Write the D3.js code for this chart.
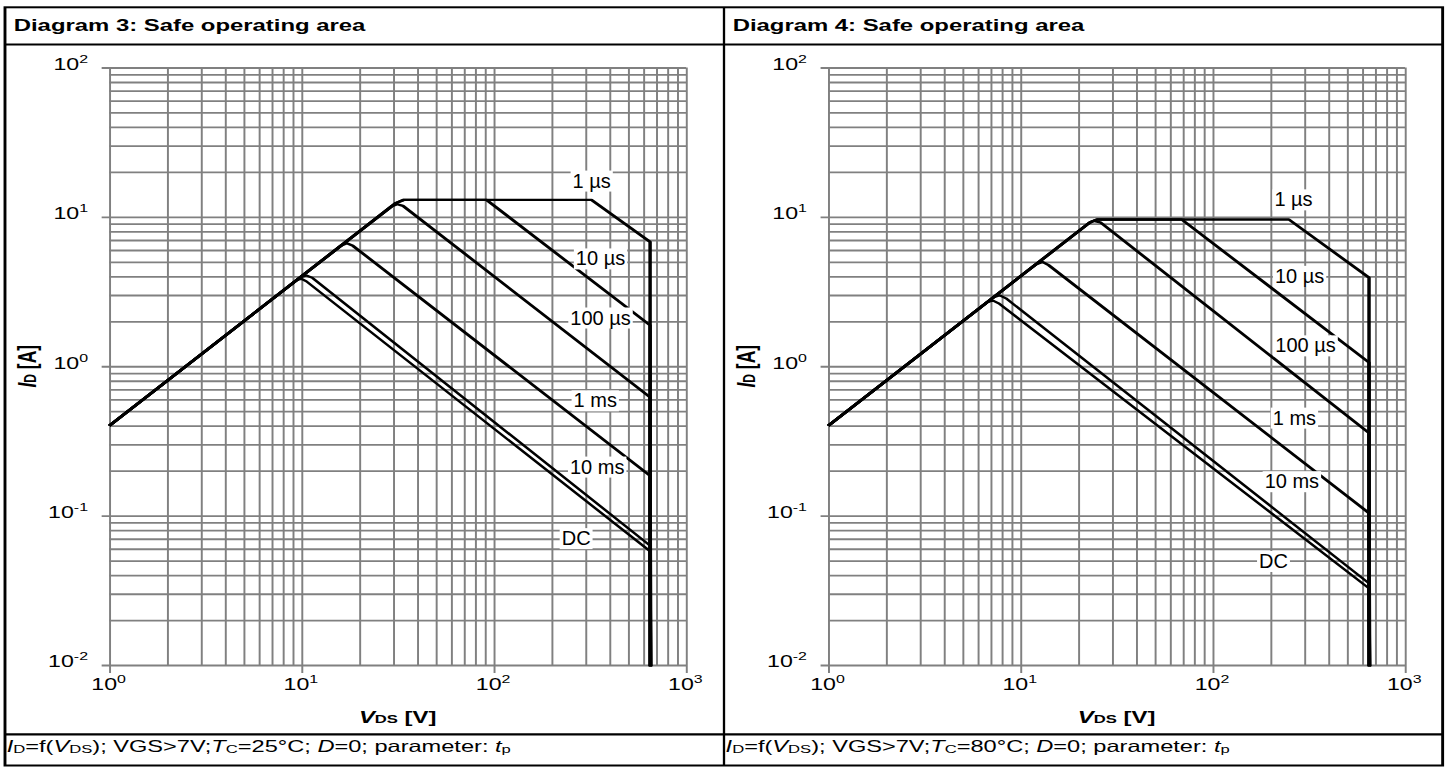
<!DOCTYPE html>
<html>
<head>
<meta charset="utf-8">
<script src="https://cdn.jsdelivr.net/npm/d3@7"></script>
<style>
  html, body { margin: 0; padding: 0; background: #fff; }
  svg { display: block; }
</style>
</head>
<body>
<svg id="chart"></svg>
<script>
// ---- Data: SOA boundary breakpoints, [V_DS (V), I_D (A)] ----
const pulseLabels = ["1 µs", "10 µs", "100 µs", "1 ms", "10 ms", "DC"];

// Diagram 3, T_C = 25 °C
const soa25_1us   = [[1, 0.4], [31, 12.4], [34, 13], [322, 13], [650, 6.8], [650, 0.0098]];
const soa25_10us  = [[1, 0.4], [31, 12.4], [34, 13], [91.6, 13], [650, 1.88], [652, 0.0098]];
const soa25_100us = [[1, 0.4], [29.5, 11.8], [31.5, 12.15], [33.7, 11.85], [650, 0.62], [653, 0.0098]];
const soa25_1ms   = [[1, 0.4], [16, 6.4], [17.2, 6.65], [18.5, 6.4], [650, 0.185], [654, 0.0098]];
const soa25_10ms  = [[1, 0.4], [9.8, 3.92], [10.6, 4.05], [11.4, 3.9], [650, 0.063], [655, 0.0098]];
const soa25_dc    = [[1, 0.4], [9.4, 3.76], [10.0, 3.85], [10.6, 3.7], [650, 0.0577], [656, 0.0098]];
// caption anchors (data space) for the pulse lengths
const labelAt25 = [[323, 17.5], [359, 5.27], [359, 2.12], [337, 0.591], [345, 0.213], [268, 0.0707]];

// Diagram 4, T_C = 80 °C
const soa80_1us   = [[1, 0.4], [23, 9.2], [25, 9.6], [249, 9.6], [650, 3.92], [650, 0.0098]];
const soa80_10us  = [[1, 0.4], [23, 9.2], [25, 9.6], [69, 9.6], [650, 1.06], [652, 0.0098]];
const soa80_100us = [[1, 0.4], [22.5, 9.0], [24, 9.4], [26, 9.2], [650, 0.357], [653, 0.0098]];
const soa80_1ms   = [[1, 0.4], [12, 4.8], [13, 5.0], [14, 4.75], [650, 0.104], [654, 0.0098]];
const soa80_10ms  = [[1, 0.4], [7.2, 2.88], [7.8, 2.98], [8.4, 2.85], [650, 0.0352], [655, 0.0098]];
const soa80_dc    = [[1, 0.4], [6.7, 2.68], [7.2, 2.75], [7.7, 2.64], [650, 0.0326], [656, 0.0098]];
const labelAt80 = [[263, 13.1], [283, 4.03], [304, 1.38], [266, 0.453], [258, 0.170], [207, 0.0497]];

// Axis decades
const xTickExp = [0, 1, 2, 3];
const yTickExp = [-2, -1, 0, 1, 2];

const titles = ["Diagram 3: Safe operating area", "Diagram 4: Safe operating area"];
const caseTemps = ["25", "80"];

// ---- Sheet setup: laid out 1000 units wide, stretched across the window ----
const K = 1.448;
const VW = 1448 / K, VH = 767;
const FONT = "'Liberation Sans', Arial, Helvetica, sans-serif";
const GRID = "#808080";

const svg = d3.select("#chart")
  .attr("width", 1448).attr("height", 767)
  .attr("viewBox", `0 0 ${VW} ${VH}`)
  .attr("preserveAspectRatio", "none")
  .style("font-family", FONT);

const frame = { l: 3.45, r: 996.3, t: 7.3, b: 765.5, head: 44.5, foot: 734.3, mid: 500 };
const plot = { x0: 75.5, x1: 473.8, y0: 67.5, y1: 665 };
const panelShift = 496.5;

function isDecade(v) {
  const l = Math.log10(v);
  return Math.abs(l - Math.round(l)) < 1e-9;
}

function drawPanel(offset, title, temp, curves, labelAt) {
  const g = svg.append("g").attr("transform", `translate(${offset},0)`);

  const x = d3.scaleLog().domain([1, 1000]).range([plot.x0, plot.x1]);
  const y = d3.scaleLog().domain([0.01, 100]).range([plot.y1, plot.y0]);

  // grid values: 1..9 per decade
  const vVals = [], hVals = [];
  for (let k = 0; k <= 2; k++) for (let m = 1; m <= 9; m++) vVals.push(m * 10 ** k);
  vVals.push(1000);
  for (let k = -2; k <= 1; k++) for (let m = 1; m <= 9; m++) hVals.push(+(m * 10 ** k).toPrecision(3));
  hVals.push(100);

  // vertical grid lines (decades run past the bottom edge as ticks)
  const gx = g.append("g")
    .attr("transform", `translate(0,${plot.y1})`)
    .call(d3.axisBottom(x).tickValues(vVals).tickSize(-(plot.y1 - plot.y0)).tickSizeOuter(0).tickFormat(""));
  gx.select(".domain").remove();
  gx.selectAll(".tick line")
    .attr("stroke", GRID).attr("stroke-width", 1.35)
    .attr("y1", d => isDecade(d) ? 8 : 0);

  // horizontal grid lines (decades run past the left edge as ticks)
  const gy = g.append("g")
    .attr("transform", `translate(${plot.x0},0)`)
    .call(d3.axisLeft(y).tickValues(hVals).tickSize(-(plot.x1 - plot.x0)).tickSizeOuter(0).tickFormat(""));
  gy.select(".domain").remove();
  gy.selectAll(".tick line")
    .attr("stroke", GRID).attr("stroke-width", 1.8)
    .attr("x1", d => isDecade(d) ? -5.3 : 0);

  // tick labels 10^n
  xTickExp.forEach(e => {
    const t = g.append("text")
      .attr("x", x(10 ** e) - 0.5).attr("y", 690)
      .attr("text-anchor", "middle").attr("font-size", 16).attr("fill", "#000");
    t.append("tspan").text("10");
    t.append("tspan").attr("dy", -7).attr("font-size", 11).text(e);
  });
  yTickExp.forEach(e => {
    const t = g.append("text")
      .attr("x", plot.x0 - 14.7).attr("y", y(10 ** e) + 2.5)
      .attr("text-anchor", "end").attr("font-size", 16).attr("fill", "#000");
    t.append("tspan").text("10");
    t.append("tspan").attr("dy", -7).attr("font-size", 11).text(e);
  });

  // axis titles
  const xt = g.append("text")
    .attr("x", (plot.x0 + plot.x1) / 2).attr("y", 723)
    .attr("text-anchor", "middle").attr("font-size", 16.5).attr("font-weight", "bold");
  xt.append("tspan").attr("font-style", "italic").text("V");
  xt.append("tspan").attr("font-size", 11.5).text("DS");
  xt.append("tspan").text(" [V]");

  const yt = g.append("text")
    .attr("transform", `translate(24.9,${(plot.y0 + plot.y1) / 2}) rotate(-90)`)
    .attr("text-anchor", "middle").attr("font-size", 17.5).attr("font-weight", "bold");
  yt.append("tspan").attr("font-style", "italic").text("I");
  yt.append("tspan").attr("font-size", 12).text("D");
  yt.append("tspan").text(" [A]");

  // SOA boundaries
  const line = d3.line().x(d => x(d[0])).y(d => y(d[1]));
  curves.forEach((c, i) => {
    g.append("path")
      .datum(c)
      .attr("d", line)
      .attr("fill", "none")
      .attr("stroke", "#000")
      .attr("stroke-width", i >= 4 ? 2.1 : 2.4)
      .attr("stroke-linejoin", "round");
  });

  // pulse-length captions on white boxes (drawn at natural glyph proportions)
  pulseLabels.forEach((lab, i) => {
    const [lv, li] = labelAt[i];
    const lg = g.append("g")
      .attr("transform", `translate(${x(lv)},${y(li)}) scale(${1 / K},1)`);
    const t = lg.append("text")
      .attr("x", 0).attr("y", 7)
      .attr("text-anchor", "middle").attr("font-size", 20).attr("fill", "#000")
      .text(lab);
    const bb = t.node().getBBox();
    lg.insert("rect", "text")
      .attr("x", bb.x - 2).attr("y", bb.y + 1)
      .attr("width", bb.width + 4).attr("height", bb.height - 1)
      .attr("fill", "#fff");
  });

  // header title
  g.append("text")
    .attr("x", 9.5).attr("y", 31)
    .attr("font-size", 16.5).attr("font-weight", "bold").attr("fill", "#000")
    .text(title);

  // footer condition line
  const parts = [
    { t: "I", i: true }, { t: "D", s: true }, { t: "=f(" }, { t: "V", i: true }, { t: "DS", s: true },
    { t: "); VGS>7V;" }, { t: "T", i: true }, { t: "C", s: true }, { t: `=${temp}°C; ` },
    { t: "D", i: true }, { t: "=0; parameter: " }, { t: "t", i: true }, { t: "p", s: true }
  ];
  const ft = g.append("text").attr("x", 4.6).attr("y", 752).attr("font-size", 16.3).attr("fill", "#000");
  let shifted = false;
  parts.forEach(p => {
    const ts = ft.append("tspan").text(p.t);
    if (p.i) ts.attr("font-style", "italic");
    if (p.s) { ts.attr("font-size", 11.5).attr("dy", shifted ? 0 : 1.5); shifted = true; }
    else if (shifted) { ts.attr("dy", -1.5); shifted = false; }
  });
}

drawPanel(0, titles[0], caseTemps[0],
  [soa25_1us, soa25_10us, soa25_100us, soa25_1ms, soa25_10ms, soa25_dc], labelAt25);
drawPanel(panelShift, titles[1], caseTemps[1],
  [soa80_1us, soa80_10us, soa80_100us, soa80_1ms, soa80_10ms, soa80_dc], labelAt80);

// table frame
const fr = svg.append("g").attr("fill", "none").attr("stroke", "#000");
fr.append("rect")
  .attr("x", frame.l).attr("y", frame.t)
  .attr("width", frame.r - frame.l).attr("height", frame.b - frame.t)
  .attr("stroke-width", 2);
fr.append("line").attr("x1", frame.l).attr("x2", frame.r).attr("y1", frame.head).attr("y2", frame.head).attr("stroke-width", 2.2);
fr.append("line").attr("x1", frame.l).attr("x2", frame.r).attr("y1", frame.foot).attr("y2", frame.foot).attr("stroke-width", 2.2);
fr.append("line").attr("x1", frame.mid).attr("x2", frame.mid).attr("y1", frame.t).attr("y2", frame.b).attr("stroke-width", 1.6);
</script>
</body>
</html>
